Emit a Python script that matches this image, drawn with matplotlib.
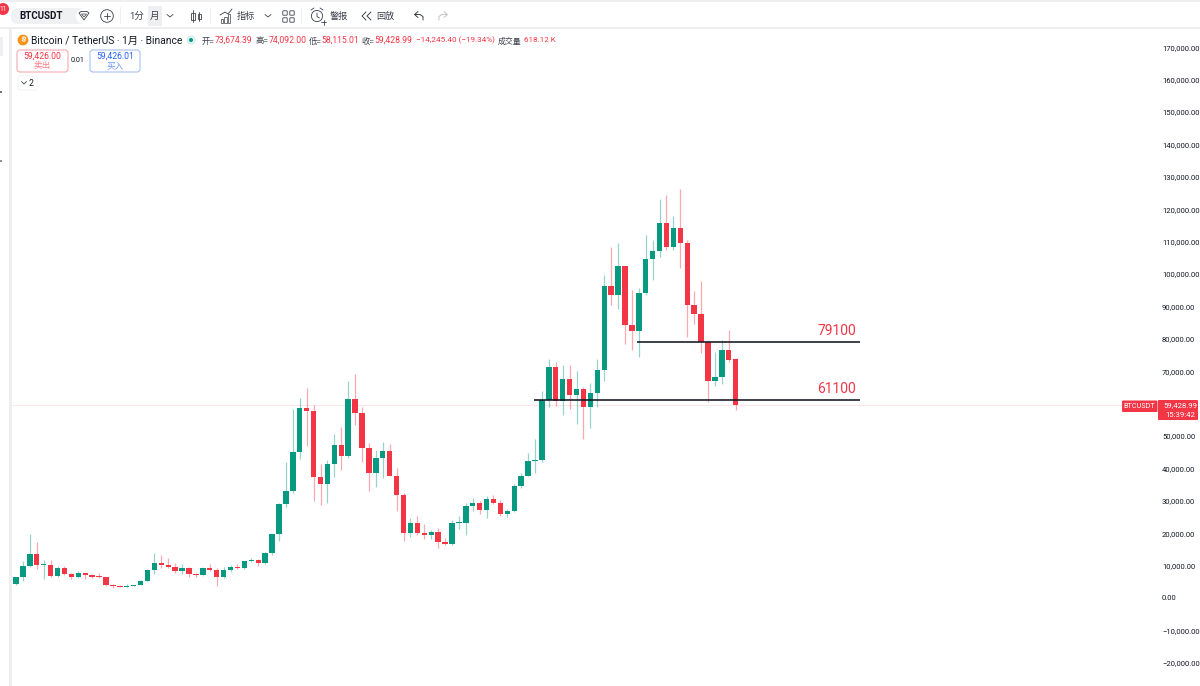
import numpy as np
import matplotlib
matplotlib.use("Agg")
import matplotlib.pyplot as plt
from matplotlib.patches import Rectangle, FancyBboxPatch, Circle, Polygon

plt.rcParams['font.family'] = ['Roboto', 'Noto Sans CJK SC', 'DejaVu Sans']

# Monthly BTCUSDT candles, September 2017 onwards
opens = [4689, 4378, 6463, 9838, 13716, 10285, 10325, 6923, 9246, 7485, 6391, 7726, 7011, 6626, 6371, 4041,
         3702, 3434, 3813, 4103, 5320, 8555, 10855, 10085, 9600, 8294, 9140, 7542,
         7195, 9353, 8524, 6410, 8620, 9448, 9138, 11335, 11649, 10776, 13791, 19700,
         28923, 33092, 45134, 58740, 57697, 37253, 35045, 41461, 47100, 43820, 61300, 56950,
         46216, 38466, 43160, 45510, 37630, 31801, 19942, 23296, 20048, 19422, 20490, 17165,
         16541, 23125, 23142, 28465, 29233, 27210, 30472, 29232, 25941, 26963, 34639, 37723,
         42283, 42580, 61130, 71280, 60672, 67491, 62772, 64628, 58973, 63327, 70292, 96407,
         93576, 102429, 84350, 82550, 94172, 104591, 107135, 115764, 108246, 114048, 109608, 90360,
         87648, 78950, 66900, 68360, 76400, 73674.39]
highs = [4939, 6470, 11300, 19798, 17176, 11786, 11710, 9759, 10020, 7754, 8450, 7750, 7410, 7680, 6540, 4312,
         4069, 4198, 4123, 5600, 9074, 13970, 13147, 12325, 10905, 10370, 9513, 7750,
         9575, 10500, 9188, 9460, 10080, 10380, 11444, 12468, 12050, 14100, 19863, 29300,
         41950, 58352, 61844, 64854, 59500, 41330, 42448, 50500, 52920, 67000, 69000, 59053,
         47990, 45821, 48189, 47444, 40023, 32395, 24668, 25214, 22800, 21085, 21480, 18387,
         23960, 25250, 29184, 31000, 29820, 31431, 31804, 30244, 27483, 35280, 38450, 44700,
         48969, 63913, 73777, 72797, 71979, 71958, 70079, 65000, 66498, 73620, 99800, 108353,
         109588, 102500, 95000, 95758, 111980, 110530, 123218, 124474, 117900, 126200, 110600, 94600,
         97900, 79500, 76080, 79570, 82870, 74092.00]
lows = [2817, 4110, 5325, 9600, 9035, 6000, 6600, 6430, 7032, 5750, 6070, 5880, 6111, 6205, 3652, 3156,
        3349, 3373, 3670, 4067, 5278, 7441, 9110, 9320, 7710, 7300, 6515, 6435,
        6901, 8410, 3782, 6150, 8106, 8833, 8976, 11000, 9825, 10366, 13195, 17572,
        28130, 32296, 43000, 47000, 30000, 28805, 29278, 37332, 39600, 43283, 53256, 41967,
        32917, 34322, 37155, 37578, 26700, 17622, 18781, 19520, 18125, 18190, 15476, 16256,
        16499, 21351, 19549, 26942, 25811, 24800, 28861, 25166, 24901, 26538, 34097, 37615,
        38555, 41884, 59005, 59191, 56552, 58402, 53717, 49000, 52550, 58895, 66835, 90500,
        89256, 78258, 76606, 74508, 93377, 98200, 105100, 107350, 107270, 102000, 80600, 84450,
        75700, 60400, 65280, 65900, 72690, 58115.01]
closes = [4378, 6463, 9838, 13716, 10285, 10326, 6923, 9246, 7485, 6391, 7726, 7011, 6626, 6371, 4041, 3702,
          3434, 3813, 4103, 5320, 8555, 10855, 10085, 9600, 8294, 9140, 7542, 7195,
          9353, 8524, 6410, 8620, 9448, 9138, 11335, 11649, 10776, 13791, 19700, 28923,
          33092, 45135, 58740, 57694, 37253, 35045, 41461, 47100, 43824, 61299, 56950, 46216,
          38466, 43160, 45510, 37630, 31801, 19942, 23293, 20050, 19422, 20491, 17164, 16542,
          23125, 23142, 28465, 29233, 27210, 30472, 29232, 25941, 26963, 34639, 37723, 42283,
          42580, 61130, 71280, 60672, 67491, 62772, 64628, 58973, 63327, 70292, 96407, 93576,
          102429, 84350, 82550, 94172, 104591, 107135, 115764, 108246, 114048, 109608, 90360, 87648,
          78950, 66900, 68360, 76400, 73600, 59428.99]

# The 60,000 label sits behind the last-price tag, so the scale leaves it out
price_ticks = [t for t in range(-20000, 170001, 10000) if t != 60000]
levels = [79100, 61100]
level_labels = ["79100", "61100"]
level_start_candle = [90.75, 75.9]
level_end_candle = 122.9
last_close = closes[-1]

BULL = "#089981"
BEAR = "#f23645"
INK = "#131722"
ICON = "#3c404b"

W, H = 1200, 686
fig = plt.figure(figsize=(W / 100, H / 100), dpi=100, facecolor="white")

# Price pane: scales follow one month = 6.92 px, 10,000 USDT = 32.4 px
left, right, top, bottom = 12, 1162, 28, 686
ax = fig.add_axes([left / W, 1 - bottom / H, (right - left) / W, (bottom - top) / H])
ax.set_xlim((left - 9.1) / 6.92, (right - 9.1) / 6.92)
ax.set_ylim((598.0 - bottom) / 32.4 * 1e4, (598.0 - top) / 32.4 * 1e4)
for s in ax.spines.values():
    s.set_visible(False)
ax.xaxis.set_visible(False)
ax.yaxis.tick_right()
ax.set_yticks(price_ticks)
ax.set_yticklabels([f"{t:,.2f}".replace("-", "\u2212") for t in price_ticks],
                   fontsize=5.5, color=INK)
ax.tick_params(axis="y", length=0, pad=0)

x = np.arange(len(opens))
o, h, l, c = map(np.asarray, (opens, highs, lows, closes))
up = c >= o
colors = np.where(up, BULL, BEAR)
ax.vlines(x, l, h, colors=colors, linewidth=0.9, alpha=0.42, zorder=2)
bar_bottom = np.minimum(o, c)
bar_height = np.maximum(np.abs(c - o), 300)
ax.bar(x, bar_height, bottom=bar_bottom, width=0.78, color=colors, linewidth=0, zorder=3)

# Last-price guide and drawn support/resistance levels
guide_end = (1122 - 9.1) / 6.92
ax.hlines(last_close, ax.get_xlim()[0], guide_end, colors=BEAR, linewidth=0.7, alpha=0.13, zorder=1)
for lv, txt, start in zip(levels, level_labels, level_start_candle):
    ax.hlines(lv, start, level_end_candle, colors=INK, linewidth=1.15, zorder=4)
    ax.annotate(txt, (level_end_candle, lv), xytext=(-2.5, 3), textcoords="offset points",
                ha="right", va="bottom", color=BEAR, fontsize=10)

# Interface layer in pixel coordinates
ui = fig.add_axes([0, 0, 1, 1], zorder=5)
ui.set_xlim(0, W)
ui.set_ylim(H, 0)
ui.axis("off")
ui.patch.set_alpha(0)


def rect(x0, y0, x1, y1, fc, ec="none", lw=0):
    ui.add_patch(Rectangle((x0, y0), x1 - x0, y1 - y0, fc=fc, ec=ec, lw=lw))


def rounded(x0, y0, x1, y1, r, fc, ec="none", lw=0):
    ui.add_patch(FancyBboxPatch((x0 + r, y0 + r), x1 - x0 - 2 * r, y1 - y0 - 2 * r,
                                boxstyle=f"round,pad={r}", fc=fc, ec=ec, lw=lw))


def stroke(xs, ys, col=ICON, lw=0.6):
    ui.plot(xs, ys, color=col, lw=lw, solid_capstyle="round", solid_joinstyle="round")


def label(px, py, s, size=7.2, col=INK, ha="left", **kw):
    ui.text(px, py, s, fontsize=size, color=col, ha=ha, va="center", **kw)


# Window chrome
rect(0, 28, 9, 686, "white")
rect(9, 28, 12, 686, "#eeeef0")
rect(0, 0, 1200, 1.5, "#efeff1")
rect(0, 26.8, 1200, 28.6, "#eeeef0")
rect(0, 37, 2.5, 56, "#efeff1")
rect(0, 91, 2, 93, "#70737c")
rect(0, 160, 2, 162, "#90939b")

# Top toolbar
ui.add_patch(Circle((3, 9), 6, fc=BEAR, ec="none"))
label(3, 9.2, "11", 4.8, "white", ha="center")
rounded(11, 8, 90, 24, 7, "#f0f1f3")
label(19, 16, "BTCUSDT", 7, INK, fontweight="bold")
ui.add_patch(Circle((84, 16), 8, fc="white", ec="none"))
ui.add_patch(Polygon([(79, 13), (81, 11.5), (87, 11.5), (89, 13), (84, 20)], fc="none", ec=ICON, lw=0.6))
ui.add_patch(Polygon([(81.5, 14), (86.5, 14), (84, 17)], fc="none", ec=ICON, lw=0.5))
ui.add_patch(Circle((107, 16), 6.3, fc="none", ec=ICON, lw=0.6))
stroke([104, 110], [16, 16])
stroke([107, 107], [13, 19])
rect(120, 7, 120.8, 24, "#f1f1f3")
label(129, 16, "1分", 6.8, ICON)
rect(147.5, 5.5, 161.5, 25.5, "#eeeff1")
label(150, 16, "月", 6.8, ICON)
stroke([167, 170, 173], [14.5, 17, 14.5])
stroke([193, 193], [10, 22])
rect(191, 12.5, 195, 20, "white", ICON, 0.6)
stroke([199, 199], [12, 21])
rect(197.5, 14, 200.5, 19, "white", ICON, 0.6)
rect(210, 7, 210.8, 24, "#f1f1f3")
for bx, bh in zip((222, 225.5, 229), (4, 6, 9)):
    rect(bx - 1.2, 23 - bh, bx + 1.2, 23, "white", ICON, 0.5)
stroke([220, 225, 228, 232], [15, 12, 14, 9])
label(237, 16, "指标", 6.6, ICON)
stroke([265, 268, 271], [14.5, 17, 14.5])
for gx in (285, 292):
    for gy in (13, 20):
        ui.add_patch(FancyBboxPatch((gx - 1.6, gy - 1.6), 3.2, 3.2, boxstyle="round,pad=0.6", fc="none", ec=ICON, lw=0.6))
rect(301, 7, 301.8, 24, "#f1f1f3")
ui.add_patch(Circle((317, 16), 5.6, fc="none", ec=ICON, lw=0.6))
stroke([317, 317, 319.5], [13, 16.5, 18])
stroke([311, 314], [10, 8])
stroke([320, 323], [8, 10])
stroke([321, 326], [22, 22])
stroke([323.5, 323.5], [19.5, 24.5])
label(330, 16, "警报", 6.6, ICON)
stroke([366, 362, 366], [12, 16, 20], lw=0.7)
stroke([371, 367, 371], [12, 16, 20], lw=0.7)
label(376, 16, "回放", 6.6, ICON)
stroke([418, 414.5, 418], [11.5, 14.5, 17.5], lw=0.7)
stroke([415, 420, 423, 423], [14.5, 14.5, 16.5, 20], lw=0.7)
stroke([444, 447.5, 444], [11.5, 14.5, 17.5], col="#c3c5ca", lw=0.7)
stroke([447, 442, 439, 439], [14.5, 14.5, 16.5, 20], col="#c3c5ca", lw=0.7)

# Legend row
ui.add_patch(Circle((23, 40), 5.4, fc="#f7931a", ec="none"))
label(23, 40, "B", 5.2, "white", ha="center", fontweight="bold", rotation=-12)
label(31, 40.5, "Bitcoin / TetherUS · 1月 · Binance", 7.4)
ui.add_patch(Circle((191, 40), 4.6, fc="#d9f1ec", ec="none"))
ui.add_patch(Circle((191, 40), 2, fc=BULL, ec="none"))
for px, name, val in ((202, "开=", f"{opens[-1]:,.2f}"), (256, "高=", f"{highs[-1]:,.2f}"),
                      (309, "低=", f"{lows[-1]:,.2f}"), (362, "收=", f"{closes[-1]:,.2f}")):
    label(px, 40.5, name, 6.0, ICON)
    label(px + 12.5, 40.5, val, 6.2, BEAR)
change = closes[-1] - opens[-1]
pct = change / opens[-1] * 100
label(416, 40.5, f"\u2212{abs(change):,.2f} (\u2212{abs(pct):.2f}%)", 5.9, BEAR)
label(498, 40.5, "成交量", 5.7, ICON)
label(523.5, 40.5, "618.12 K", 5.8, BEAR)

# Order buttons
rounded(17, 50, 68, 72, 3, "white", "#f7a9b0", 0.8)
label(42.5, 56.5, "59,426.00", 6.2, BEAR, ha="center")
label(42.5, 65.5, "卖出", 6.2, "#f77c86", ha="center")
label(78, 61, "0.01", 5.2, INK, ha="center")
rounded(90, 50, 140, 72, 3, "white", "#a8c0f5", 0.8)
label(115, 56.5, "59,426.01", 6.2, "#2962ff", ha="center")
label(115, 65.5, "买入", 6.2, "#6f97f7", ha="center")
rounded(18, 76, 37, 90, 2, "white", "#f3f3f5", 0.6)
stroke([21.5, 24, 26.5], [81.5, 84, 81.5])
label(29, 83, "2", 6.2)

# Last-price tag on the price scale
rounded(1122, 400.5, 1157.5, 412, 1, BEAR)
rounded(1158, 400, 1198, 420, 1, BEAR)
label(1139.7, 406.2, "BTCUSDT", 5.2, "white", ha="center")
label(1180, 405, f"{last_close:,.2f}", 5.6, "white", ha="center")
label(1180, 415, "15:39:42", 5.6, "white", ha="center")

fig.savefig("out.png", dpi=100)
